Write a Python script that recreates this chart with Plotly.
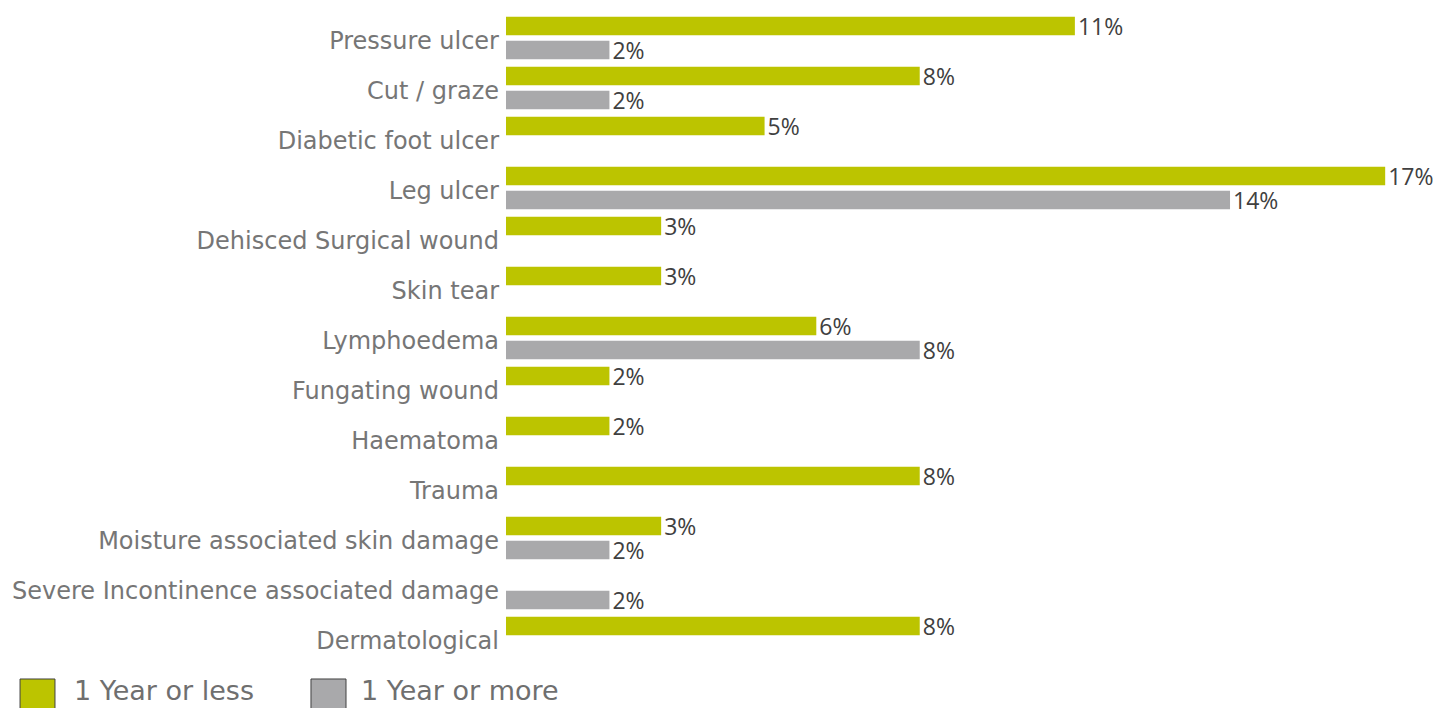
import plotly.graph_objects as go

categories = [
    "Pressure ulcer", "Cut / graze", "Diabetic foot ulcer", "Leg ulcer",
    "Dehisced Surgical wound", "Skin tear", "Lymphoedema", "Fungating wound",
    "Haematoma", "Trauma", "Moisture associated skin damage",
    "Severe Incontinence associated damage", "Dermatological",
]
year_or_less = [11, 8, 5, 17, 3, 3, 6, 2, 2, 8, 3, None, 8]
year_or_more = [2, 2, None, 14, None, None, 8, None, None, None, 2, 2, None]
series_names = ["1 Year or less", "1 Year or more"]

GREEN = "#BCC400"
GREY = "#A9A9AB"
LABEL_FONT = dict(family="Open Sans", size=23, color="#404040")


def pct_text(vals):
    return [f"{v}%" if v is not None else "" for v in vals]


fig = go.Figure()
for name, vals, color in [(series_names[0], year_or_less, GREEN),
                          (series_names[1], year_or_more, GREY)]:
    fig.add_trace(go.Bar(
        y=categories, x=vals, name=name, orientation="h",
        marker=dict(color=color, line=dict(width=0)),
        text=pct_text(vals), textposition="outside", textfont=LABEL_FONT,
        constraintext="none", cliponaxis=False, showlegend=False,
        hoverinfo="skip",
    ))

fig.update_layout(
    width=1440, height=708,
    margin=dict(l=506, r=0, t=13, b=45),
    paper_bgcolor="white", plot_bgcolor="white",
    barmode="group", bargap=0.04, bargroupgap=0.23,
    xaxis=dict(visible=False, range=[0, 18.06]),
    yaxis=dict(
        autorange="reversed", showgrid=False, zeroline=False, showline=False,
        ticks="", ticklabelstandoff=6, ticklabelshift=-3,
        tickfont=dict(family="DejaVu Sans", size=24, color="#767676"),
    ),
)

# legend drawn below the plot as swatches with text
legend_items = [
    (series_names[0], GREEN, -0.5203, -0.4829, -0.4650),
    (series_names[1], GREY, -0.2088, -0.1713, -0.1575),
]
for label, color, x0, x1, xt in legend_items:
    fig.add_shape(type="rect", xref="paper", yref="paper",
                  x0=x0, x1=x1, y0=-0.0754, y1=-0.0246,
                  fillcolor=color, line=dict(color="#404040", width=1))
    fig.add_annotation(text=label, xref="paper", yref="paper",
                       x=xt, y=-0.0692, xanchor="left", yanchor="bottom",
                       showarrow=False,
                       font=dict(family="DejaVu Sans", size=27, color="#6f6f6f"))

fig.write_html("out.html")
